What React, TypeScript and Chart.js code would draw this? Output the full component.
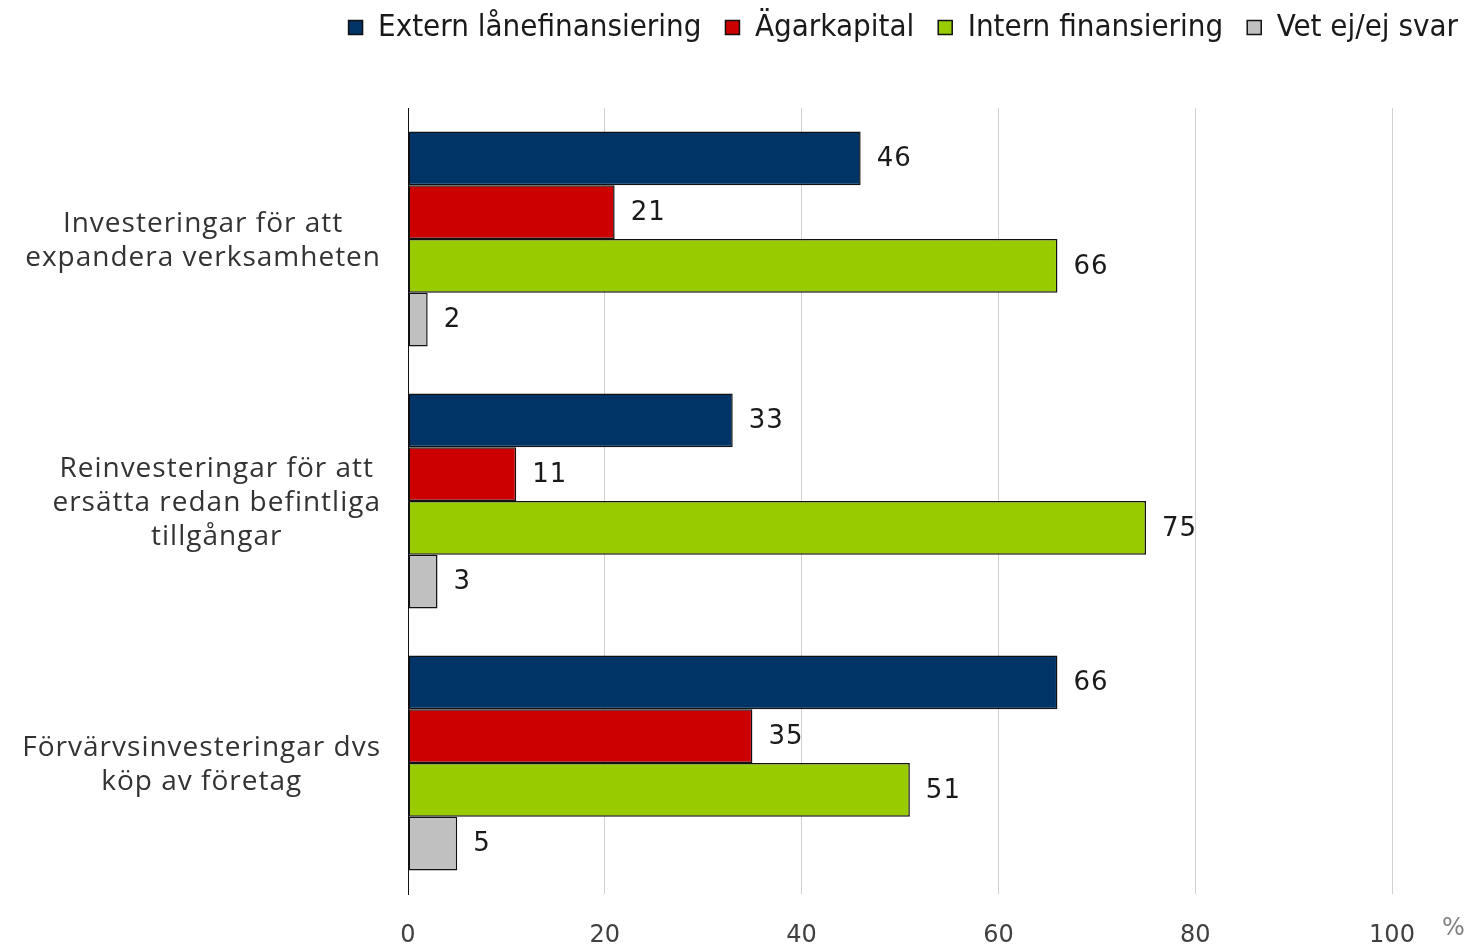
import React, { useEffect, useRef } from "react";
import { Chart, registerables } from "chart.js";

Chart.register(...registerables);

const categories: string[][] = [
  ["Investeringar för att", "expandera verksamheten"],
  ["Reinvesteringar för att", "ersätta redan befintliga", "tillgångar"],
  ["Förvärvsinvesteringar dvs", "köp av företag"],
];
const seriesNames = ["Extern lånefinansiering", "Ägarkapital", "Intern finansiering", "Vet ej/ej svar"];
const externValues = [46, 33, 66];
const agarValues = [21, 11, 35];
const internValues = [66, 75, 51];
const vetejValues = [2, 3, 5];
const seriesColors = ["#003366", "#CC0000", "#99CC00", "#C0C0C0"];
const xTicks = [0, 20, 40, 60, 80, 100];

const LABEL_FONT = "'Open Sans', sans-serif";
const NUM_FONT = "'DejaVu Sans', sans-serif";

const customPlugin = {
  id: "custom",
  beforeInit(chart: any) {
    const legend = chart.legend;
    if (legend) {
      const fit = legend.fit;
      legend.fit = function () {
        fit.call(this);
        this.height += 55;
      };
    }
  },
  afterDatasetsDraw(chart: any) {
    const ctx = chart.ctx;
    ctx.save();
    ctx.font = `26px ${NUM_FONT}`;
    (ctx as any).letterSpacing = "1px";
    ctx.fillStyle = "#1a1a1a";
    ctx.textBaseline = "middle";
    ctx.textAlign = "left";
    chart.data.datasets.forEach((ds: any, i: number) => {
      const meta = chart.getDatasetMeta(i);
      meta.data.forEach((bar: any, j: number) => {
        ctx.fillText(String(ds.data[j]), bar.x + 16, bar.y + 1);
      });
    });
    // category labels
    const y = chart.scales.y;
    ctx.font = `28px ${LABEL_FONT}`;
    (ctx as any).letterSpacing = "1px";
    ctx.fillStyle = "#333333";
    ctx.textAlign = "center";
    const right = chart.chartArea.left - 27;
    categories.forEach((lines, idx) => {
      const cy = y.getPixelForValue(idx) + 2;
      const maxW = Math.max(...lines.map((l) => ctx.measureText(l).width));
      const cx = right - maxW / 2;
      const lh = 34;
      const start = cy - ((lines.length - 1) * lh) / 2;
      lines.forEach((l, k) => ctx.fillText(l, cx, start + k * lh));
    });
    // percent sign
    (ctx as any).letterSpacing = "0px";
    ctx.font = `24px ${NUM_FONT}`;
    ctx.fillStyle = "#808080";
    ctx.textAlign = "left";
    ctx.fillText("%", chart.chartArea.right + 50, chart.chartArea.bottom + 35);
    ctx.restore();
  },
};

export default function App() {
  const ref = useRef<HTMLCanvasElement | null>(null);
  useEffect(() => {
    document.body.style.margin = "0";
    const valuesList = [externValues, agarValues, internValues, vetejValues];
    const chart = new Chart(ref.current as HTMLCanvasElement, {
      type: "bar",
      data: {
        labels: categories.map((c) => c.join(" ")),
        datasets: seriesNames.map((name, i) => ({
          label: name,
          data: valuesList[i],
          backgroundColor: seriesColors[i],
          borderColor: "#111111",
          borderWidth: 1.5,
          borderSkipped: false,
          categoryPercentage: 0.82,
          barPercentage: 1.0,
        })),
      },
      options: {
        indexAxis: "y",
        animation: false,
        responsive: false,
        maintainAspectRatio: false,
        layout: { padding: { left: 0, right: -10, top: -12, bottom: 0 } },
        plugins: {
          legend: {
            position: "top",
            align: "end",
            labels: {
              boxWidth: 14,
              boxHeight: 14,
              padding: 24,
              color: "#1a1a1a",
              font: { family: "'DejaVu Sans', sans-serif", weight: "condensed" as any, size: 31 },
            },
          },
          tooltip: { enabled: false },
        },
        scales: {
          x: {
            min: 0,
            max: 100,
            afterBuildTicks(scale: any) {
              scale.ticks = xTicks.map((v) => ({ value: v }));
            },
            afterFit(scale: any) {
              scale.height = 51;
            },
            grid: { color: "#d0d0d0", lineWidth: 1, drawTicks: false },
            border: { display: false },
            ticks: {
              padding: 27,
              color: "#404040",
              font: { family: NUM_FONT, size: 24 },
            },
          },
          y: {
            afterFit(scale: any) {
              scale.width = 408;
            },
            grid: { display: false, drawTicks: false },
            border: { display: true, color: "#111111", width: 1 },
            ticks: { display: false },
          },
          y2: {
            type: "linear",
            position: "right",
            afterFit(scale: any) {
              scale.width = 90;
            },
            grid: { display: false, drawTicks: false },
            border: { display: false },
            ticks: { display: false },
          },
        },
      },
      plugins: [customPlugin],
    });
    return () => chart.destroy();
  }, []);
  return (
    <div style={{ width: 1472, height: 945 }}>
      <canvas ref={ref} width={1472} height={945} style={{ display: "block" }} />
    </div>
  );
}
